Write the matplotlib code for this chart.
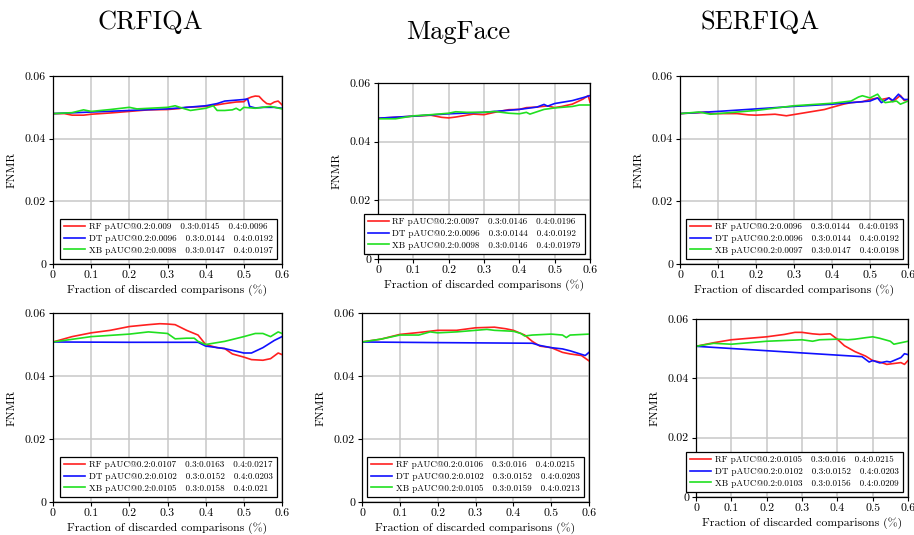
import matplotlib
matplotlib.use("Agg")
import matplotlib.pyplot as plt

plt.rcParams['font.family'] = ['cmr10', 'DejaVu Serif']
plt.rcParams['mathtext.fontset'] = 'cm'
plt.rcParams['axes.unicode_minus'] = False

titles = ["CRFIQA", "MagFace", "SERFIQA"]
series_names = ["RF", "DT", "XB"]
series_colors = ["#ff2020", "#1010ff", "#20e020"]

x_ticks = [0, 0.1, 0.2, 0.3, 0.4, 0.5, 0.6]
x_tick_labels = ["0", "0.1", "0.2", "0.3", "0.4", "0.5", "0.6"]
y_ticks = [0, 0.02, 0.04, 0.06]
y_tick_labels = ["0", "0.02", "0.04", "0.06"]
x_label = "Fraction of discarded comparisons (%)"
y_label = "FNMR"

# ---- Panel 1: CRFIQA top ----
rf1_x = [0, 0.03, 0.05, 0.08, 0.1, 0.15, 0.2, 0.25, 0.3, 0.33, 0.35, 0.4, 0.43, 0.45, 0.48, 0.5, 0.51, 0.52, 0.53, 0.54, 0.55, 0.56, 0.57, 0.58, 0.59, 0.6]
rf1_y = [0.0480, 0.0480, 0.0475, 0.0475, 0.0478, 0.0482, 0.0487, 0.0492, 0.0493, 0.0496, 0.0500, 0.0503, 0.0508, 0.0512, 0.0517, 0.0518, 0.0528, 0.0533, 0.0536, 0.0535, 0.0522, 0.0512, 0.0510, 0.0517, 0.0520, 0.0508]
dt1_x = [0, 0.1, 0.2, 0.3, 0.35, 0.4, 0.43, 0.45, 0.5, 0.51, 0.515, 0.53, 0.55, 0.58, 0.6]
dt1_y = [0.0480, 0.0485, 0.0490, 0.0495, 0.0500, 0.0505, 0.0512, 0.0520, 0.0525, 0.0527, 0.0503, 0.0498, 0.0500, 0.0500, 0.0497]
xb1_x = [0, 0.05, 0.08, 0.1, 0.15, 0.2, 0.22, 0.3, 0.32, 0.34, 0.36, 0.4, 0.42, 0.43, 0.45, 0.47, 0.48, 0.49, 0.5, 0.53, 0.55, 0.57, 0.6]
xb1_y = [0.0480, 0.0483, 0.0492, 0.0487, 0.0493, 0.0500, 0.0495, 0.0500, 0.0505, 0.0497, 0.0490, 0.0497, 0.0505, 0.0490, 0.0490, 0.0492, 0.0497, 0.0490, 0.0500, 0.0497, 0.0500, 0.0503, 0.0495]
legend1 = ["RF pAUC@0.2:0.009   0.3:0.0145   0.4:0.0096",
           "DT pAUC@0.2:0.0096   0.3:0.0144   0.4:0.0192",
           "XB pAUC@0.2:0.0098   0.3:0.0147   0.4:0.0197"]

# ---- Panel 2: MagFace top ----
rf2_x = [0, 0.05, 0.1, 0.15, 0.18, 0.2, 0.22, 0.25, 0.27, 0.3, 0.33, 0.37, 0.4, 0.42, 0.45, 0.48, 0.5, 0.52, 0.55, 0.58, 0.595, 0.6]
rf2_y = [0.0480, 0.0483, 0.0487, 0.0490, 0.0483, 0.0481, 0.0484, 0.0490, 0.0494, 0.0492, 0.0500, 0.0509, 0.0510, 0.0516, 0.0518, 0.0522, 0.0516, 0.0520, 0.0528, 0.0545, 0.0557, 0.0535]
dt2_x = [0, 0.1, 0.2, 0.3, 0.4, 0.45, 0.47, 0.48, 0.5, 0.55, 0.58, 0.6]
dt2_y = [0.0480, 0.0487, 0.0495, 0.0500, 0.0510, 0.0518, 0.0527, 0.0521, 0.0530, 0.0540, 0.0550, 0.0557]
xb2_x = [0, 0.05, 0.1, 0.15, 0.2, 0.22, 0.25, 0.3, 0.33, 0.35, 0.37, 0.4, 0.42, 0.43, 0.45, 0.47, 0.5, 0.55, 0.57, 0.6]
xb2_y = [0.0478, 0.0478, 0.0488, 0.0492, 0.0497, 0.0502, 0.0500, 0.0500, 0.0503, 0.0500, 0.0497, 0.0495, 0.0500, 0.0494, 0.0502, 0.0510, 0.0515, 0.0520, 0.0525, 0.0525]
legend2 = ["RF pAUC@0.2:0.0097   0.3:0.0146   0.4:0.0196",
           "DT pAUC@0.2:0.0096   0.3:0.0144   0.4:0.0192",
           "XB pAUC@0.2:0.0098   0.3:0.0146   0.4:0.01979"]

# ---- Panel 3: SERFIQA top ----
rf3_x = [0, 0.05, 0.07, 0.08, 0.12, 0.15, 0.18, 0.2, 0.25, 0.28, 0.3, 0.35, 0.38, 0.4, 0.43, 0.45, 0.48, 0.5, 0.52, 0.53, 0.55, 0.56, 0.58, 0.59, 0.6]
rf3_y = [0.0480, 0.0483, 0.0485, 0.0480, 0.0480, 0.0480, 0.0476, 0.0475, 0.0478, 0.0473, 0.0477, 0.0487, 0.0493, 0.0500, 0.0510, 0.0515, 0.0518, 0.0525, 0.0530, 0.0525, 0.0530, 0.0518, 0.0538, 0.0522, 0.0525]
dt3_x = [0, 0.1, 0.2, 0.3, 0.4, 0.45, 0.5, 0.52, 0.53, 0.55, 0.56, 0.575, 0.58, 0.59, 0.6]
dt3_y = [0.0480, 0.0487, 0.0495, 0.0503, 0.0510, 0.0515, 0.0520, 0.0530, 0.0515, 0.0530, 0.0522, 0.0542, 0.0535, 0.0525, 0.0525]
xb3_x = [0, 0.05, 0.08, 0.15, 0.2, 0.3, 0.4, 0.45, 0.47, 0.48, 0.5, 0.52, 0.53, 0.54, 0.57, 0.58, 0.6]
xb3_y = [0.0480, 0.0485, 0.0478, 0.0485, 0.0490, 0.0505, 0.0513, 0.0520, 0.0533, 0.0537, 0.0530, 0.0542, 0.0525, 0.0515, 0.0520, 0.0510, 0.0520]
legend3 = ["RF pAUC@0.2:0.0096   0.3:0.0144   0.4:0.0193",
           "DT pAUC@0.2:0.0096   0.3:0.0144   0.4:0.0192",
           "XB pAUC@0.2:0.0097   0.3:0.0147   0.4:0.0198"]

# ---- Panel 4: CRFIQA bottom ----
rf4_x = [0, 0.05, 0.1, 0.15, 0.2, 0.25, 0.28, 0.3, 0.32, 0.35, 0.38, 0.4, 0.43, 0.45, 0.47, 0.5, 0.52, 0.55, 0.57, 0.59, 0.6]
rf4_y = [0.0508, 0.0525, 0.0537, 0.0545, 0.0557, 0.0563, 0.0566, 0.0565, 0.0563, 0.0545, 0.0530, 0.0500, 0.0490, 0.0487, 0.0470, 0.0460, 0.0452, 0.0450, 0.0455, 0.0473, 0.0468]
dt4_x = [0, 0.2, 0.38, 0.4, 0.45, 0.5, 0.52, 0.55, 0.58, 0.6]
dt4_y = [0.0508, 0.0507, 0.0507, 0.0495, 0.0487, 0.0473, 0.0473, 0.0490, 0.0513, 0.0525]
xb4_x = [0, 0.1, 0.2, 0.25, 0.28, 0.3, 0.32, 0.35, 0.37, 0.38, 0.4, 0.45, 0.5, 0.53, 0.55, 0.57, 0.59, 0.6]
xb4_y = [0.0508, 0.0525, 0.0533, 0.0540, 0.0537, 0.0535, 0.0518, 0.0520, 0.0520, 0.0510, 0.0500, 0.0510, 0.0525, 0.0535, 0.0535, 0.0525, 0.0540, 0.0535]
legend4 = ["RF pAUC@0.2:0.0107   0.3:0.0163   0.4:0.0217",
           "DT pAUC@0.2:0.0102   0.3:0.0152   0.4:0.0203",
           "XB pAUC@0.2:0.0105   0.3:0.0158   0.4:0.021"]

# ---- Panel 5: MagFace bottom ----
rf5_x = [0, 0.05, 0.1, 0.15, 0.2, 0.25, 0.3, 0.35, 0.38, 0.4, 0.43, 0.45, 0.47, 0.5, 0.53, 0.55, 0.58, 0.6]
rf5_y = [0.0508, 0.0517, 0.0532, 0.0538, 0.0545, 0.0545, 0.0553, 0.0555, 0.0550, 0.0545, 0.0530, 0.0510, 0.0495, 0.0490, 0.0475, 0.0470, 0.0465, 0.0448]
dt5_x = [0, 0.2, 0.45, 0.47, 0.5, 0.53, 0.55, 0.59, 0.6]
dt5_y = [0.0508, 0.0506, 0.0504, 0.0497, 0.0490, 0.0486, 0.0480, 0.0465, 0.0475]
xb5_x = [0, 0.05, 0.1, 0.15, 0.18, 0.2, 0.25, 0.3, 0.33, 0.35, 0.4, 0.42, 0.43, 0.45, 0.5, 0.53, 0.54, 0.55, 0.6]
xb5_y = [0.0508, 0.0517, 0.0530, 0.0530, 0.0540, 0.0537, 0.0540, 0.0545, 0.0548, 0.0545, 0.0542, 0.0535, 0.0527, 0.0530, 0.0533, 0.0530, 0.0522, 0.0530, 0.0533]
legend5 = ["RF pAUC@0.2:0.0106   0.3:0.016   0.4:0.0215",
           "DT pAUC@0.2:0.0102   0.3:0.0152   0.4:0.0203",
           "XB pAUC@0.2:0.0105   0.3:0.0159   0.4:0.0213"]

# ---- Panel 6: SERFIQA bottom ----
rf6_x = [0, 0.05, 0.1, 0.15, 0.2, 0.25, 0.28, 0.3, 0.33, 0.35, 0.38, 0.4, 0.42, 0.45, 0.48, 0.5, 0.52, 0.54, 0.56, 0.58, 0.59, 0.6]
rf6_y = [0.0508, 0.0520, 0.0530, 0.0535, 0.0540, 0.0548, 0.0555, 0.0555, 0.0550, 0.0548, 0.0550, 0.0532, 0.0510, 0.0490, 0.0475, 0.0460, 0.0455, 0.0447, 0.0450, 0.0453, 0.0447, 0.0460]
dt6_x = [0, 0.47, 0.49, 0.5, 0.52, 0.54, 0.55, 0.58, 0.59, 0.6]
dt6_y = [0.0508, 0.0473, 0.0455, 0.0460, 0.0452, 0.0457, 0.0455, 0.0470, 0.0483, 0.0480]
xb6_x = [0, 0.05, 0.1, 0.15, 0.2, 0.3, 0.33, 0.35, 0.4, 0.43, 0.45, 0.48, 0.5, 0.52, 0.55, 0.56, 0.58, 0.6]
xb6_y = [0.0508, 0.0518, 0.0515, 0.0520, 0.0525, 0.0530, 0.0525, 0.0530, 0.0532, 0.0530, 0.0532, 0.0537, 0.0540, 0.0535, 0.0525, 0.0515, 0.0520, 0.0525]
legend6 = ["RF pAUC@0.2:0.0105   0.3:0.016   0.4:0.0215",
           "DT pAUC@0.2:0.0102   0.3:0.0152   0.4:0.0203",
           "XB pAUC@0.2:0.0103   0.3:0.0156   0.4:0.0209"]

panels = [
    ([(rf1_x, rf1_y), (dt1_x, dt1_y), (xb1_x, xb1_y)], legend1),
    ([(rf2_x, rf2_y), (dt2_x, dt2_y), (xb2_x, xb2_y)], legend2),
    ([(rf3_x, rf3_y), (dt3_x, dt3_y), (xb3_x, xb3_y)], legend3),
    ([(rf4_x, rf4_y), (dt4_x, dt4_y), (xb4_x, xb4_y)], legend4),
    ([(rf5_x, rf5_y), (dt5_x, dt5_y), (xb5_x, xb5_y)], legend5),
    ([(rf6_x, rf6_y), (dt6_x, dt6_y), (xb6_x, xb6_y)], legend6),
]

# axes rectangles in figure pixels: left, top, right, bottom
W, H = 914, 535
rects_px = [
    (53, 76, 282, 264),
    (378, 83, 590, 259),
    (680, 76, 908, 264),
    (53, 313, 282, 502),
    (362, 313, 589, 502),
    (696, 319, 908, 497),
]

fig = plt.figure(figsize=(W / 100, H / 100), dpi=100)

for (series, labels), (l, t, r, b) in zip(panels, rects_px):
    ax = fig.add_axes([l / W, 1 - b / H, (r - l) / W, (b - t) / H])
    for (xs, ys), c, lab in zip(series, series_colors, labels):
        ax.plot(xs, ys, color=c, lw=1.2, label=lab, solid_joinstyle='round')
    ax.set_xlim(0, 0.6)
    ax.set_ylim(0, 0.06)
    ax.set_xticks(x_ticks)
    ax.set_xticklabels(x_tick_labels)
    ax.set_yticks(y_ticks)
    ax.set_yticklabels(y_tick_labels)
    ax.tick_params(labelsize=8.5, length=3, width=0.8, direction='out', pad=2)
    ax.grid(True, color='#c8c8c8', lw=1.1)
    ax.set_axisbelow(True)
    for sp in ax.spines.values():
        sp.set_linewidth(0.9)
        sp.set_color('black')
    ax.set_xlabel(x_label, fontsize=8.5, labelpad=3)
    ax.set_ylabel(y_label, fontsize=8.5, labelpad=6)
    leg = ax.legend(loc='lower right', fontsize=6.5, frameon=True, fancybox=False,
                    framealpha=1, edgecolor='black', handlelength=2.3,
                    labelspacing=0.35, borderpad=0.45, borderaxespad=0.6,
                    handletextpad=0.4)
    leg.get_frame().set_linewidth(0.9)

title_pos = [(150, 22), (458, 32), (760, 22)]
for name, (tx, ty) in zip(titles, title_pos):
    fig.text(tx / W, 1 - ty / H, name, fontsize=19, ha='center', va='center')

fig.savefig("out.png", dpi=100)
